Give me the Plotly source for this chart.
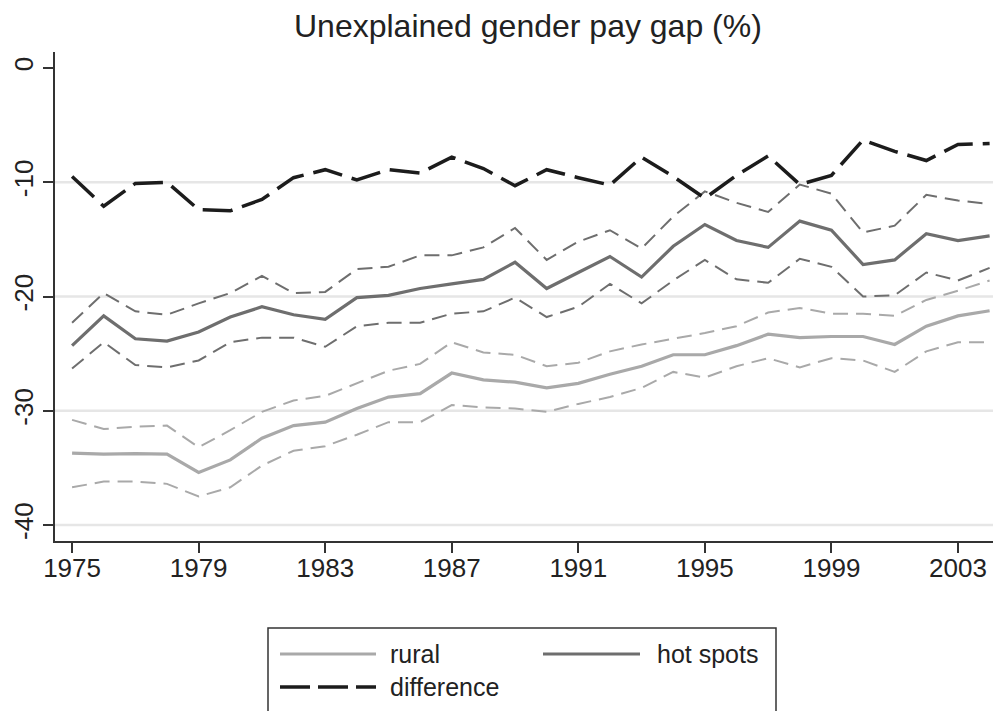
import plotly.graph_objects as go

years = list(range(1975, 2005))

difference = [-9.5, -12.1, -10.1, -10.0, -12.4, -12.5, -11.5, -9.6, -8.9, -9.8,
              -8.9, -9.2, -7.8, -8.8, -10.3, -8.9, -9.6, -10.25, -7.8, -9.5,
              -11.4, -9.4, -7.7, -10.2, -9.4, -6.3, -7.3, -8.1, -6.7, -6.6]

hot = [-24.3, -21.7, -23.7, -23.9, -23.1, -21.8, -20.9, -21.6, -22.0, -20.1,
       -19.9, -19.3, -18.9, -18.5, -17.0, -19.3, -17.9, -16.5, -18.3, -15.6,
       -13.7, -15.1, -15.7, -13.4, -14.2, -17.2, -16.8, -14.5, -15.1, -14.7]
hot_hi = [-22.3, -19.7, -21.3, -21.6, -20.6, -19.7, -18.2, -19.7, -19.6, -17.6,
          -17.4, -16.4, -16.4, -15.7, -14.0, -16.8, -15.2, -14.2, -15.8, -13.0,
          -10.8, -11.8, -12.6, -10.2, -11.0, -14.4, -13.8, -11.1, -11.6, -11.9]
hot_lo = [-26.3, -24.0, -26.0, -26.2, -25.6, -24.0, -23.6, -23.6, -24.4, -22.6,
          -22.3, -22.3, -21.5, -21.3, -20.1, -21.8, -20.9, -18.9, -20.6, -18.6,
          -16.8, -18.5, -18.8, -16.7, -17.4, -20.0, -19.9, -17.9, -18.6, -17.5]

rural = [-33.7, -33.8, -33.75, -33.8, -35.4, -34.3, -32.4, -31.3, -31.0, -29.8,
         -28.8, -28.5, -26.7, -27.3, -27.5, -28.0, -27.6, -26.8, -26.1, -25.1,
         -25.1, -24.3, -23.3, -23.6, -23.5, -23.5, -24.2, -22.6, -21.7, -21.25]
rural_hi = [-30.8, -31.6, -31.4, -31.3, -33.2, -31.7, -30.1, -29.1, -28.7, -27.6,
            -26.5, -25.9, -24.0, -24.9, -25.1, -26.1, -25.8, -24.8, -24.2, -23.7,
            -23.2, -22.6, -21.4, -21.0, -21.5, -21.5, -21.7, -20.3, -19.5, -18.6]
rural_lo = [-36.7, -36.2, -36.2, -36.4, -37.5, -36.7, -34.8, -33.5, -33.1, -32.1,
            -31.0, -31.0, -29.5, -29.7, -29.8, -30.1, -29.4, -28.8, -28.0, -26.6,
            -27.1, -26.1, -25.4, -26.2, -25.4, -25.6, -26.6, -24.8, -24.0, -24.0]

x_ticks = [1975, 1979, 1983, 1987, 1991, 1995, 1999, 2003]
y_ticks = [-40, -30, -20, -10, 0]
grid_vals = [-40, -30, -20, -10]

C_RURAL = "#a9a9a9"
C_HOT = "#6e6e6e"
C_DIFF = "#1c1c1c"
FONT = "Liberation Sans, Arial, sans-serif"

# page body has an 8px margin; the figure is sized/offset to compensate
OFF = 8
W, H = 1001 - OFF, 711 - OFF
ML, MR, MT, MB = 55 - OFF, 0, 52 - OFF, 170
PW = W - ML - MR
PH = H - MT - MB


def px(x):
    return (x - OFF - ML) / PW


def py(y):
    return (H - MB - (y - OFF)) / PH


fig = go.Figure()

ci = dict(width=2, dash="15px,8px")
fig.add_trace(go.Scatter(x=years, y=rural_hi, mode="lines", line=dict(color=C_RURAL, **ci), showlegend=False))
fig.add_trace(go.Scatter(x=years, y=rural_lo, mode="lines", line=dict(color=C_RURAL, **ci), showlegend=False))
fig.add_trace(go.Scatter(x=years, y=hot_hi, mode="lines", line=dict(color=C_HOT, **ci), showlegend=False))
fig.add_trace(go.Scatter(x=years, y=hot_lo, mode="lines", line=dict(color=C_HOT, **ci), showlegend=False))
fig.add_trace(go.Scatter(x=years, y=rural, mode="lines", name="rural", line=dict(color=C_RURAL, width=3.2), showlegend=False))
fig.add_trace(go.Scatter(x=years, y=hot, mode="lines", name="hot spots", line=dict(color=C_HOT, width=3.2), showlegend=False))
fig.add_trace(go.Scatter(x=years, y=difference, mode="lines", name="difference",
                         line=dict(color=C_DIFF, width=3.5, dash="30px,10px"), showlegend=False))

shapes = []
for g in grid_vals:
    shapes.append(dict(type="line", xref="paper", yref="y", x0=0, x1=1, y0=g, y1=g,
                       line=dict(color="#e6e6e6", width=2.5), layer="below"))

# manual legend
shapes.append(dict(type="rect", xref="paper", yref="paper", x0=px(268), x1=px(776), y0=py(628), y1=py(730),
                   line=dict(color="#333333", width=1.5), fillcolor="rgba(0,0,0,0)"))
shapes.append(dict(type="line", xref="paper", yref="paper", x0=px(280), x1=px(376), y0=py(654), y1=py(654),
                   line=dict(color=C_RURAL, width=3.2)))
shapes.append(dict(type="line", xref="paper", yref="paper", x0=px(543), x1=px(640), y0=py(654), y1=py(654),
                   line=dict(color=C_HOT, width=3.2)))
shapes.append(dict(type="line", xref="paper", yref="paper", x0=px(280), x1=px(376), y0=py(687), y1=py(687),
                   line=dict(color=C_DIFF, width=3.5, dash="30px,8px")))

annotations = [
    dict(text="rural", xref="paper", yref="paper", x=px(388), y=py(654), xanchor="left", yanchor="middle",
         showarrow=False, font=dict(size=25, color="#222", family=FONT)),
    dict(text="hot spots", xref="paper", yref="paper", x=px(655), y=py(654), xanchor="left", yanchor="middle",
         showarrow=False, font=dict(size=25, color="#222", family=FONT)),
    dict(text="difference", xref="paper", yref="paper", x=px(388), y=py(687), xanchor="left", yanchor="middle",
         showarrow=False, font=dict(size=25, color="#222", family=FONT)),
    dict(text="Unexplained gender pay gap (%)", xref="paper", yref="paper", x=0.5, y=py(26),
         xanchor="center", yanchor="middle", showarrow=False, font=dict(size=32, color="#222", family=FONT)),
]

fig.update_layout(
    width=W, height=H,
    margin=dict(l=ML, r=MR, t=MT, b=MB, pad=0, autoexpand=False),
    paper_bgcolor="white", plot_bgcolor="white",
    font=dict(family=FONT, color="#222"),
    shapes=shapes, annotations=annotations,
    showlegend=False,
)
fig.update_xaxes(range=[1974.46, 2004.36], tickvals=x_ticks, ticktext=[str(v) for v in x_ticks],
                 automargin=False, ticklabelstandoff=-7,
                 showgrid=False, zeroline=False, showline=True, linecolor="#333", linewidth=1.5,
                 ticks="outside", ticklen=10, tickwidth=1.5, tickcolor="#333",
                 tickfont=dict(size=26, family=FONT, color="#222"))
fig.update_yaxes(range=[-41.4, 1.4], tickvals=y_ticks, ticktext=[str(v) for v in y_ticks],
                 automargin=False,
                 showgrid=False, zeroline=False, showline=True, linecolor="#333", linewidth=1.5,
                 ticks="outside", ticklen=10, tickwidth=1.5, tickcolor="#333", tickangle=-90,
                 tickfont=dict(size=26, family=FONT, color="#222"))

fig.write_html("out.html")
